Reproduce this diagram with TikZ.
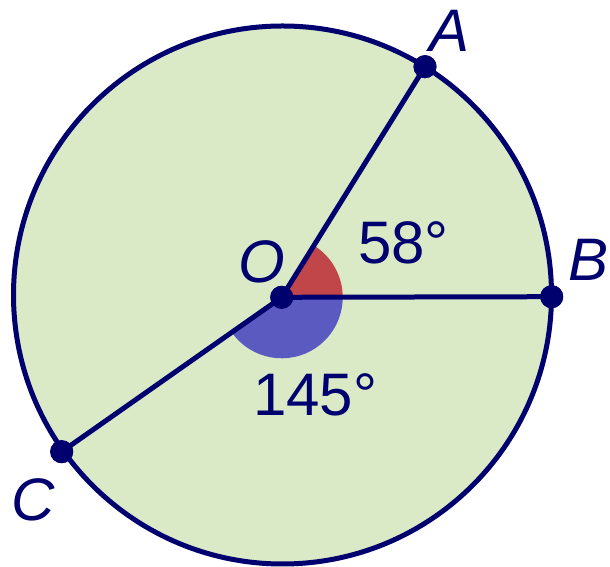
\documentclass[tikz,border=0pt]{standalone}
\usepackage{fontspec}
\setmainfont{Liberation Sans}
\definecolor{navy}{RGB}{0,0,110}
\definecolor{disc}{RGB}{218,234,198}
\definecolor{redang}{RGB}{192,70,74}
\definecolor{blueang}{RGB}{90,90,192}
\tikzset{
  seg/.style={draw=navy, line width=5pt},
  dotpt/.style={circle, fill=navy, inner sep=0pt, minimum size=23pt},
  lbl/.style={text=navy, inner sep=0pt, font=\fontsize{60}{60}\selectfont}
}
\begin{document}
\begin{tikzpicture}[x=1pt,y=1pt]
\useasboundingbox (0,0) rectangle (610,567);
\coordinate (M) at (282.5,272);
\fill[disc] (M) circle[radius=269];
\coordinate (Oc) at (281.7,269.7);
\fill[redang] (Oc) -- ++(0:61) arc[start angle=0, end angle=58, radius=61] -- cycle;
\fill[blueang] (Oc) -- ++(-145:61) arc[start angle=-145, end angle=0, radius=61] -- cycle;
\node[dotpt] (A) at (425,500.3) {};
\node[dotpt] (B) at (551.7,270.3) {};
\node[dotpt] (C) at (61.7,115.3) {};
\node[dotpt] (O) at (Oc) {};
\draw[seg] (O.center) -- (A.center);
\draw[seg] (O.center) -- (B.center);
\draw[seg] (O.center) -- (C.center);
\draw[seg] (M) circle[radius=269];
\node[dotpt] at (A) {};
\node[dotpt] at (B) {};
\node[dotpt] at (C) {};
\node[dotpt] at (O) {};
\node[lbl] (lA) at (450,536) {\itshape A};
\node[lbl] (lB) at (589,307) {\itshape B};
\node[lbl] (lC) at (33,67) {\itshape C};
\node[lbl] (lO) at (261.5,305.5) {\itshape O};
\node[lbl, anchor=west] (l58) at (358,324) {58°};
\node[lbl, anchor=west] (l145) at (253,172) {145°};
\end{tikzpicture}
\end{document}
